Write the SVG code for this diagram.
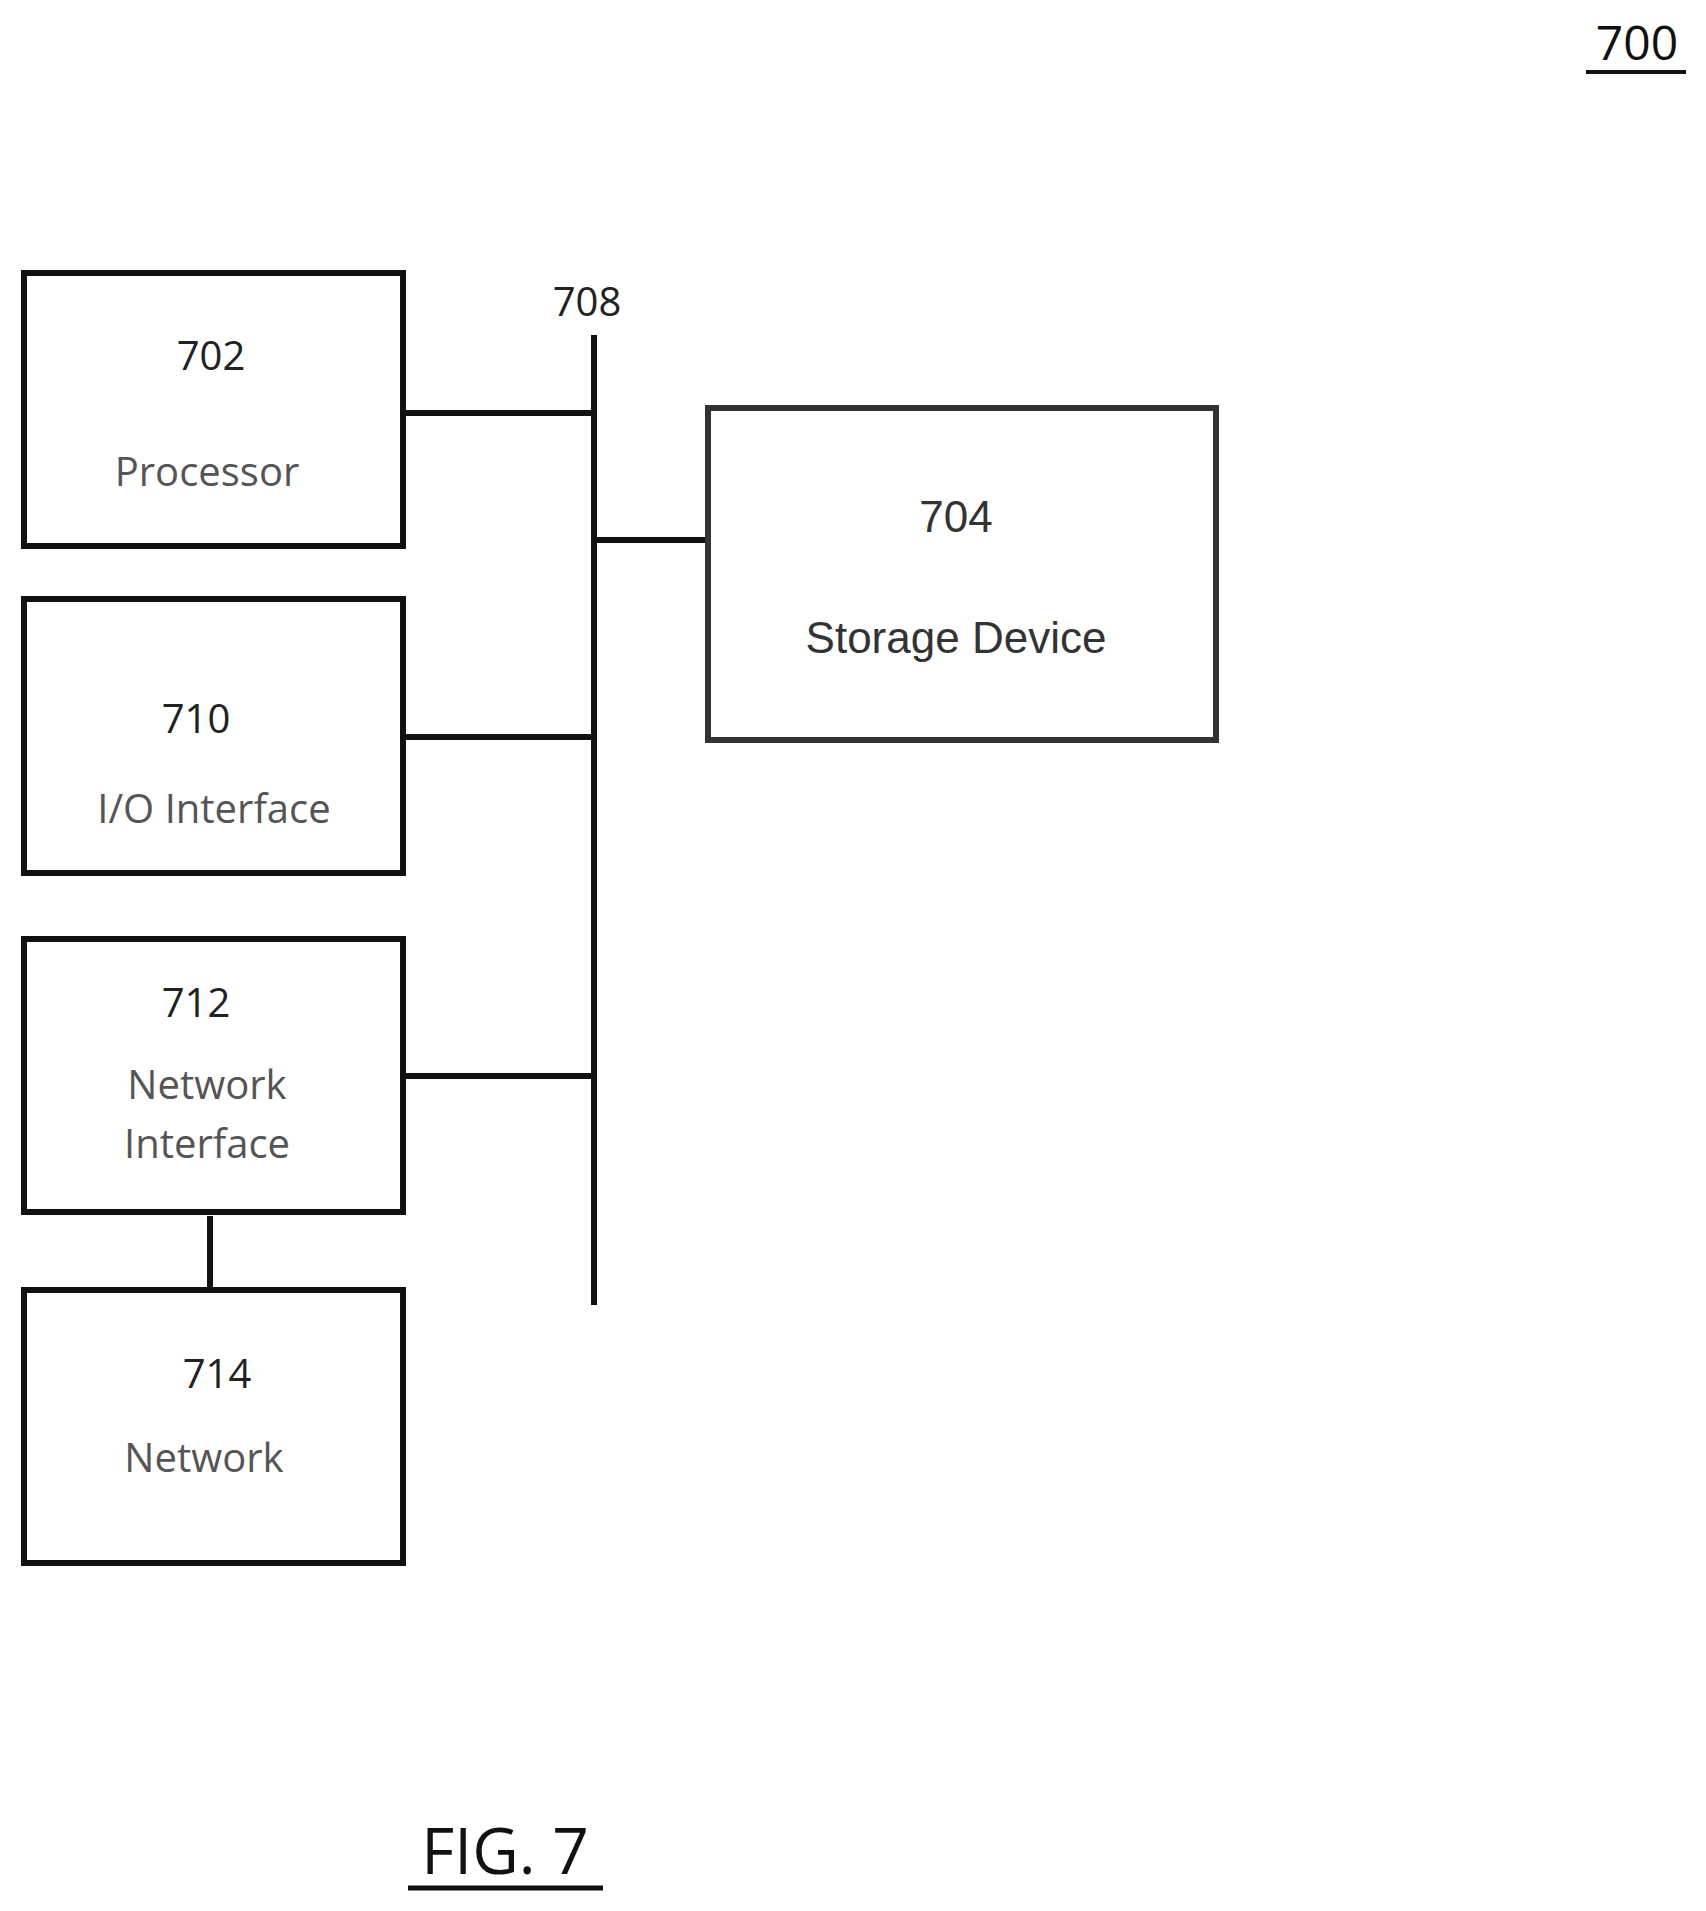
<svg xmlns="http://www.w3.org/2000/svg" width="1706" height="1911" viewBox="0 0 1706 1911">
<style>
.box{fill:#fff;stroke:#111;stroke-width:6}
.sbox{fill:#fff;stroke:#333;stroke-width:6}
.c{stroke:#111;stroke-width:6;fill:none}
.t{font-family:"Open Sans","Liberation Sans",sans-serif;font-size:40px;fill:#222;text-anchor:middle}
.g{fill:#555}
.s{font-family:"Liberation Sans",sans-serif;font-size:44px;fill:#333;text-anchor:middle}
</style>
<rect width="1706" height="1911" fill="#fff"/>
<g id="connectors">
<line class="c" x1="594" y1="335" x2="594" y2="1305"/>
<line class="c" x1="403" y1="413" x2="594" y2="413"/>
<line class="c" x1="594" y1="540" x2="708" y2="540"/>
<line class="c" x1="403" y1="737" x2="594" y2="737"/>
<line class="c" x1="403" y1="1076" x2="594" y2="1076"/>
<line class="c" x1="210" y1="1216" x2="210" y2="1290"/>
</g>
<g id="n700"><text x="1637" y="60" font-family="Open Sans,Liberation Sans,sans-serif" font-size="48" fill="#111" text-anchor="middle">700</text><line x1="1586" y1="72" x2="1686" y2="72" stroke="#111" stroke-width="4"/></g>
<g id="n708"><text class="t" x="587" y="316">708</text></g>
<g id="n702"><rect class="box" x="24" y="273" width="379" height="273"/><text class="t" x="211" y="370">702</text><text class="t g" x="207" y="486">Processor</text></g>
<g id="n704"><rect class="sbox" x="708" y="408" width="508" height="332"/><text class="s" x="956" y="532">704</text><text class="s" x="956" y="653">Storage Device</text></g>
<g id="n710"><rect class="box" x="24" y="599" width="379" height="274"/><text class="t" x="196" y="733">710</text><text class="t g" x="214" y="823">I/O Interface</text></g>
<g id="n712"><rect class="box" x="24" y="939" width="379" height="273"/><text class="t" x="196" y="1017">712</text><text class="t g" x="207" y="1099">Network</text><text class="t g" x="207" y="1158">Interface</text></g>
<g id="n714"><rect class="box" x="24" y="1290" width="379" height="273"/><text class="t" x="217" y="1388">714</text><text class="t g" x="204" y="1472">Network</text></g>
<g id="fig"><text x="505" y="1874" font-family="Open Sans,Liberation Sans,sans-serif" font-size="64" fill="#111" text-anchor="middle">FIG. 7</text><line x1="408" y1="1888" x2="603" y2="1888" stroke="#111" stroke-width="5"/></g>
</svg>
